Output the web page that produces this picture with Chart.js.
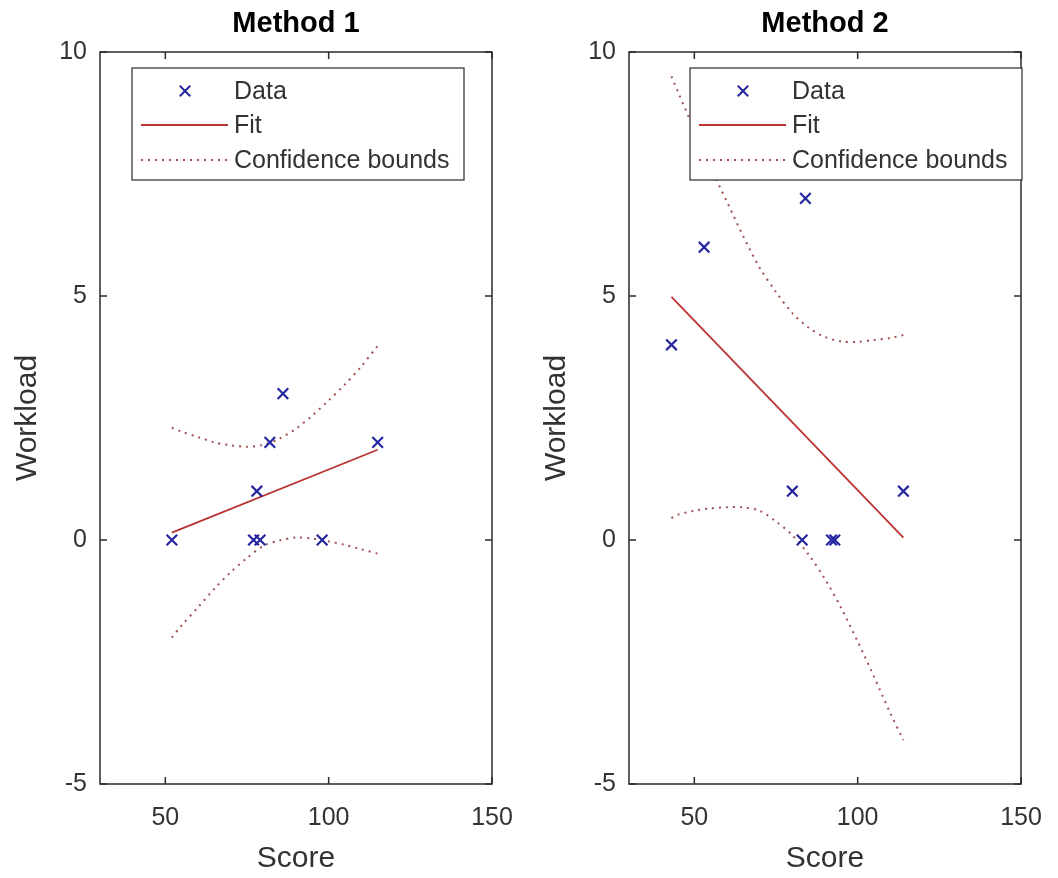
<!DOCTYPE html>
<html>
<head>
<meta charset="utf-8">
<title>Workload vs Score</title>
<script src="https://cdn.jsdelivr.net/npm/chart.js@4.4.1/dist/chart.umd.min.js"></script>
<style>
    html, body { margin: 0; padding: 0; background: #fff; }
    .panel { position: absolute; top: 0; width: 529px; height: 878px; }
    #panel1 { left: 0; }
    #panel2 { left: 529px; }
</style>
</head>
<body>
<div class="panel" id="panel1"><canvas id="chartMethod1"></canvas></div>
<div class="panel" id="panel2"><canvas id="chartMethod2"></canvas></div>
<script>
// ── Data ────────────────────────────────────────────────────
const X_TICKS = [50, 100, 150];
const Y_TICKS = [-5, 0, 5, 10];

// Method 1
const SCORE_1    = [52, 77, 79, 98, 78, 82, 86, 115];
const WORKLOAD_1 = [0, 0, 0, 0, 1, 2, 3, 2];
const FIT_X_1    = [52, 115];
const FIT_Y_1    = [0.15, 1.85];
const BOUND_X_1  = [52, 55, 60, 65, 70, 75, 80, 85, 90, 95, 100, 105, 110, 115];
const UPPER_1    = [2.30, 2.22, 2.11, 2.00, 1.94, 1.91, 1.95, 2.08, 2.28, 2.55, 2.86, 3.19, 3.56, 3.98];
const LOWER_1    = [-2.00, -1.75, -1.38, -1.00, -0.66, -0.37, -0.12, -0.01, 0.05, 0.03, -0.03, -0.10, -0.19, -0.28];

// Method 2
const SCORE_2    = [43, 53, 84, 80, 114, 83, 92, 93];
const WORKLOAD_2 = [4, 6, 7, 1, 1, 0, 0, 0];
const FIT_X_2    = [43, 114];
const FIT_Y_2    = [4.98, 0.05];
const BOUND_X_2  = [43, 45, 50, 55, 60, 65, 70, 75, 80, 85, 90, 95, 100, 105, 110, 114];
const UPPER_2    = [9.50, 9.18, 8.40, 7.63, 6.93, 6.22, 5.58, 5.08, 4.65, 4.35, 4.16, 4.07, 4.06, 4.10, 4.14, 4.20];
const LOWER_2    = [0.45, 0.52, 0.60, 0.65, 0.67, 0.67, 0.60, 0.38, 0.10, -0.30, -0.80, -1.40, -2.08, -2.80, -3.55, -4.10];

// ── Styles ──────────────────────────────────────────────────
const TEXT_COLOR  = '#333333';
const AXIS_COLOR  = '#2b2b2b';
const DATA_COLOR  = '#2626a0';
const FIT_COLOR   = '#bb3232';
const BOUND_COLOR = '#a05050';
const TICK_LEN    = 7;

Chart.defaults.font.family = "'Liberation Sans', Arial, sans-serif";
Chart.defaults.color = TEXT_COLOR;

const toPoints = (xs, ys) => xs.map((x, i) => ({ x, y: ys[i] }));

// ── MATLAB-like box, inward ticks, title and legend ─────────
const matlabAxes = {
    id: 'matlabAxes',
    afterDraw(chart, args, opts) {
        const { ctx, chartArea: a, scales: { x, y } } = chart;
        ctx.save();

        // box + inward ticks
        ctx.strokeStyle = AXIS_COLOR;
        ctx.lineWidth = 1.5;
        ctx.strokeRect(a.left, a.top, a.right - a.left, a.bottom - a.top);
        ctx.beginPath();
        X_TICKS.forEach(v => {
            const px = x.getPixelForValue(v);
            ctx.moveTo(px, a.bottom); ctx.lineTo(px, a.bottom - TICK_LEN);
            ctx.moveTo(px, a.top);    ctx.lineTo(px, a.top + TICK_LEN);
        });
        Y_TICKS.forEach(v => {
            const py = y.getPixelForValue(v);
            ctx.moveTo(a.left, py);  ctx.lineTo(a.left + TICK_LEN, py);
            ctx.moveTo(a.right, py); ctx.lineTo(a.right - TICK_LEN, py);
        });
        ctx.stroke();

        // title, centred over the axes
        ctx.fillStyle = '#000';
        ctx.font = "bold 29px 'Liberation Sans', Arial, sans-serif";
        ctx.textAlign = 'center';
        ctx.textBaseline = 'middle';
        ctx.fillText(opts.title, (a.left + a.right) / 2, 24);

        // legend
        const bx = a.left + opts.legendLeft, by = a.top + 16, bw = 332, bh = 112;
        ctx.fillStyle = '#fff';
        ctx.fillRect(bx, by, bw, bh);
        ctx.lineWidth = 1.2;
        ctx.strokeStyle = AXIS_COLOR;
        ctx.strokeRect(bx, by, bw, bh);

        const rows = [23, 57, 92];
        ctx.font = "25px 'Liberation Sans', Arial, sans-serif";
        ctx.textAlign = 'left';
        chart.data.datasets.slice(0, 3).forEach((ds, i) => {
            const ry = by + rows[i];
            ctx.save();
            if (ds.showLine === false) {
                const cx = bx + 53, r = 5.2;
                ctx.strokeStyle = ds.borderColor;
                ctx.lineWidth = 2;
                ctx.beginPath();
                ctx.moveTo(cx - r, ry - r); ctx.lineTo(cx + r, ry + r);
                ctx.moveTo(cx + r, ry - r); ctx.lineTo(cx - r, ry + r);
                ctx.stroke();
            } else {
                ctx.strokeStyle = ds.borderColor;
                ctx.lineWidth = ds.borderWidth;
                ctx.setLineDash(ds.borderDash || []);
                ctx.beginPath();
                ctx.moveTo(bx + 9, ry); ctx.lineTo(bx + 96, ry);
                ctx.stroke();
            }
            ctx.restore();
            ctx.fillStyle = TEXT_COLOR;
            ctx.fillText(ds.label, bx + 102, ry + 1);
        });

        ctx.restore();
    }
};

function makeChart(canvasId, title, legendLeft, score, workload, fitX, fitY, boundX, upper, lower) {
    const ctx = document.getElementById(canvasId).getContext('2d');
    const boundStyle = {
        showLine: true,
        borderColor: BOUND_COLOR,
        borderWidth: 2,
        borderDash: [2, 5],
        pointRadius: 0,
        tension: 0.3,
        fill: false
    };
    return new Chart(ctx, {
        type: 'scatter',
        data: {
            datasets: [
                {
                    label: 'Data',
                    data: toPoints(score, workload),
                    showLine: false,
                    pointStyle: 'crossRot',
                    pointRadius: 7.5,
                    borderWidth: 2.2,
                    borderColor: DATA_COLOR,
                    backgroundColor: DATA_COLOR
                },
                {
                    label: 'Fit',
                    data: toPoints(fitX, fitY),
                    showLine: true,
                    borderColor: FIT_COLOR,
                    borderWidth: 1.8,
                    pointRadius: 0
                },
                Object.assign({ label: 'Confidence bounds', data: toPoints(boundX, upper) }, boundStyle),
                Object.assign({ label: 'Confidence bounds', data: toPoints(boundX, lower) }, boundStyle)
            ]
        },
        options: {
            responsive: true,
            maintainAspectRatio: false,
            animation: false,
            devicePixelRatio: 1,
            layout: { padding: { left: 0, right: 37, top: 52, bottom: 0 } },
            plugins: {
                legend: { display: false },
                tooltip: { enabled: false },
                title: { display: false },
                matlabAxes: { title, legendLeft }
            },
            scales: {
                x: {
                    type: 'linear',
                    min: 30,
                    max: 150,
                    afterBuildTicks: s => { s.ticks = X_TICKS.map(v => ({ value: v })); },
                    // fixed height; edge labels fit inside the layout padding
                    afterFit: s => { s.height = 94; s.paddingLeft = 0; s.paddingRight = 0; },
                    grid: { display: false, drawTicks: false },
                    border: { display: false },
                    ticks: { padding: 19, maxRotation: 0, font: { size: 25 }, color: TEXT_COLOR },
                    title: {
                        display: true, text: 'Score', color: TEXT_COLOR,
                        font: { size: 30 }, padding: { top: 0, bottom: 1 }
                    }
                },
                y: {
                    type: 'linear',
                    min: -5,
                    max: 10,
                    afterBuildTicks: s => { s.ticks = Y_TICKS.map(v => ({ value: v })); },
                    afterFit: s => { s.width = 100; },
                    grid: { display: false, drawTicks: false },
                    border: { display: false },
                    ticks: { padding: 13, font: { size: 25 }, color: TEXT_COLOR },
                    title: {
                        display: true, text: 'Workload', color: TEXT_COLOR,
                        font: { size: 30 }, padding: { top: 10, bottom: 0 }
                    }
                }
            }
        },
        plugins: [matlabAxes]
    });
}

makeChart('chartMethod1', 'Method 1', 32, SCORE_1, WORKLOAD_1, FIT_X_1, FIT_Y_1, BOUND_X_1, UPPER_1, LOWER_1);
makeChart('chartMethod2', 'Method 2', 61, SCORE_2, WORKLOAD_2, FIT_X_2, FIT_Y_2, BOUND_X_2, UPPER_2, LOWER_2);
</script>
</body>
</html>
